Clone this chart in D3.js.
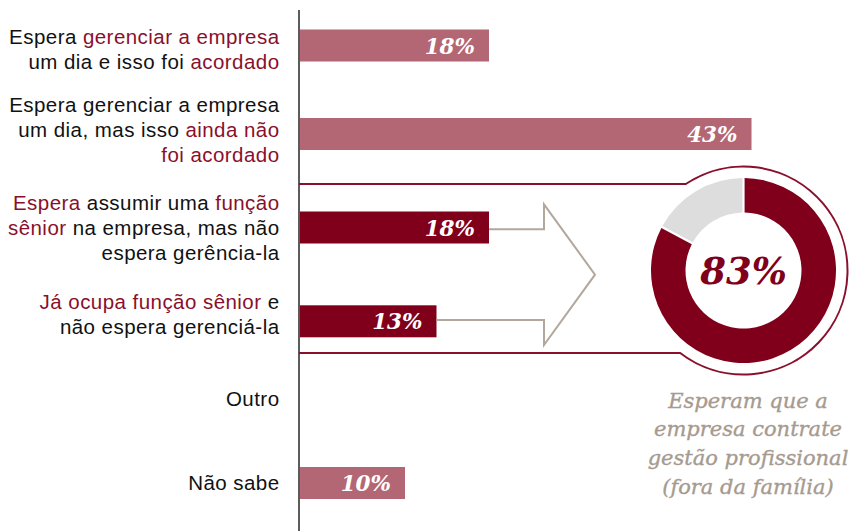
<!DOCTYPE html>
<html>
<head>
<meta charset="utf-8">
<script src="https://cdn.jsdelivr.net/npm/d3@7"></script>
<style>
  html, body { margin: 0; padding: 0; background: #fff; }
  svg { display: block; }
</style>
</head>
<body>
<svg id="chart"></svg>
<script>
// categorias (ordem de cima para baixo)
const categories = ["acordado", "naoAcordado", "senior", "jaSenior", "outro", "naoSabe"];
const values = [18, 43, 18, 13, null, 10];
const barTone = ["light", "light", "dark", "dark", "light", "light"];

// rótulos: cada linha é uma lista de [texto, destaque]
const labelLines = [
  [[["Espera ", false], ["gerenciar a empresa", true]],
   [["um dia e isso foi ", false], ["acordado", true]]],
  [[["Espera gerenciar a empresa", false]],
   [["um dia, mas isso ", false], ["ainda não", true]],
   [["foi acordado", true]]],
  [[["Espera", true], [" assumir uma ", false], ["função", true]],
   [["sênior", true], [" na empresa, mas não", false]],
   [["espera gerência-la", false]]],
  [[["Já ocupa função sênior", true], [" e", false]],
   [["não espera gerenciá-la", false]]],
  [[["Outro", false]]],
  [[["Não sabe", false]]]
];

const donutValues = [83, 17];
const donutLabel = "83%";
const captionLines = ["Esperam que a", "empresa contrate", "gestão profissional", "(fora da família)"];

const width = 849;
const height = 531;
const colors = { dark: "#80001c", light: "#b36674", text: "#111", accent: "#8a0f2c", grey: "#a69a90", ring: "#dddddd" };

const svg = d3.select("#chart").attr("width", width).attr("height", height);

const x = d3.scaleLinear().domain([0, 100]).range([300, 300 + 1050]);
// centro vertical de cada barra e primeira linha de base de cada rótulo
const yBar = d3.scaleOrdinal().domain(categories).range([45.5, 134, 227.5, 321.3, 400, 483]);
const yLabel = d3.scaleOrdinal().domain(categories).range([43.5, 111.8, 210, 308.5, 406, 490]);
const barH = 32;
const lineH = 25;

// eixo vertical
svg.append("line")
  .attr("x1", 299).attr("x2", 299)
  .attr("y1", 10).attr("y2", height)
  .attr("stroke", "#333").attr("stroke-width", 1.6);

// moldura em volta do grupo "sênior" + círculo
const cx = 743.5, cy = 270.5, rFrame = 104;
const fTop = 184, fBot = 353;
const dxTop = Math.sqrt(rFrame * rFrame - (fTop - cy) ** 2);
const dxBot = Math.sqrt(rFrame * rFrame - (fBot - cy) ** 2);
svg.append("path")
  .attr("d", `M299,${fTop}H${cx - dxTop}A${rFrame},${rFrame} 0 1 1 ${cx - dxBot},${fBot}H299`)
  .attr("fill", "none")
  .attr("stroke", colors.accent)
  .attr("stroke-width", 2);

// barras
const rows = categories.map((c, i) => ({ key: c, value: values[i], tone: barTone[i], lines: labelLines[i] }));

svg.selectAll(".bar")
  .data(rows.filter((d) => d.value != null))
  .enter().append("rect")
  .attr("class", "bar")
  .attr("x", x(0))
  .attr("y", (d) => yBar(d.key) - barH / 2)
  .attr("width", (d) => x(d.value) - x(0))
  .attr("height", barH)
  .attr("fill", (d) => colors[d.tone]);

svg.selectAll(".val")
  .data(rows.filter((d) => d.value != null))
  .enter().append("text")
  .attr("class", "val")
  .attr("x", (d) => x(d.value) - 14)
  .attr("y", (d) => yBar(d.key) + 8)
  .attr("text-anchor", "end")
  .attr("fill", "#fff")
  .style("font-family", "'DejaVu Serif', serif")
  .style("font-weight", "bold")
  .style("font-style", "italic")
  .style("font-size", "21.5px")
  .text((d) => d.value + "%");

// rótulos das categorias
rows.forEach((d) => {
  d.lines.forEach((segs, li) => {
    const t = svg.append("text")
      .attr("x", 279.5)
      .attr("y", yLabel(d.key) + li * lineH)
      .attr("text-anchor", "end")
      .style("font-family", "'Liberation Sans', Arial, sans-serif")
      .style("font-size", "20.5px")
      .style("letter-spacing", "0.45px");
    segs.forEach(([s, hl]) => {
      t.append("tspan").attr("fill", hl ? colors.accent : colors.text).text(s);
    });
  });
});

// seta
const yA = yBar("senior") + 1.8, yB = yBar("jaSenior") - 1.3;
const headX = 544, tipX = 595, headOut = 25;
const arrow = d3.line();
svg.append("path")
  .attr("d", arrow([
    [x(18), yA], [headX, yA], [headX, yA - headOut], [tipX, (yA + yB) / 2],
    [headX, yB + headOut], [headX, yB], [x(13), yB]
  ]))
  .attr("fill", "none")
  .attr("stroke", "#b2a79d")
  .attr("stroke-width", 2);

// rosca
const pie = d3.pie().sort(null).padAngle(0.02);
const arc = d3.arc().innerRadius(58).outerRadius(92.5);
svg.append("g")
  .attr("transform", `translate(${cx},${cy})`)
  .selectAll("path")
  .data(pie(donutValues))
  .enter().append("path")
  .attr("d", arc)
  .attr("fill", (d, i) => (i === 0 ? colors.dark : colors.ring));

svg.append("text")
  .attr("x", cx)
  .attr("y", cy + 13)
  .attr("text-anchor", "middle")
  .attr("fill", colors.dark)
  .style("font-family", "'DejaVu Serif', serif")
  .style("font-weight", "bold")
  .style("font-style", "italic")
  .style("font-size", "37px")
  .text(donutLabel);

// legenda
svg.selectAll(".cap")
  .data(captionLines)
  .enter().append("text")
  .attr("class", "cap")
  .attr("x", 748)
  .attr("y", (d, i) => 407.5 + i * 28.8)
  .attr("text-anchor", "middle")
  .attr("fill", colors.grey)
  .attr("stroke", colors.grey)
  .attr("stroke-width", 0.35)
  .style("font-family", "'DejaVu Serif', serif")
  .style("font-style", "italic")
  .style("font-size", "21px")
  .text((d) => d);
</script>
</body>
</html>
